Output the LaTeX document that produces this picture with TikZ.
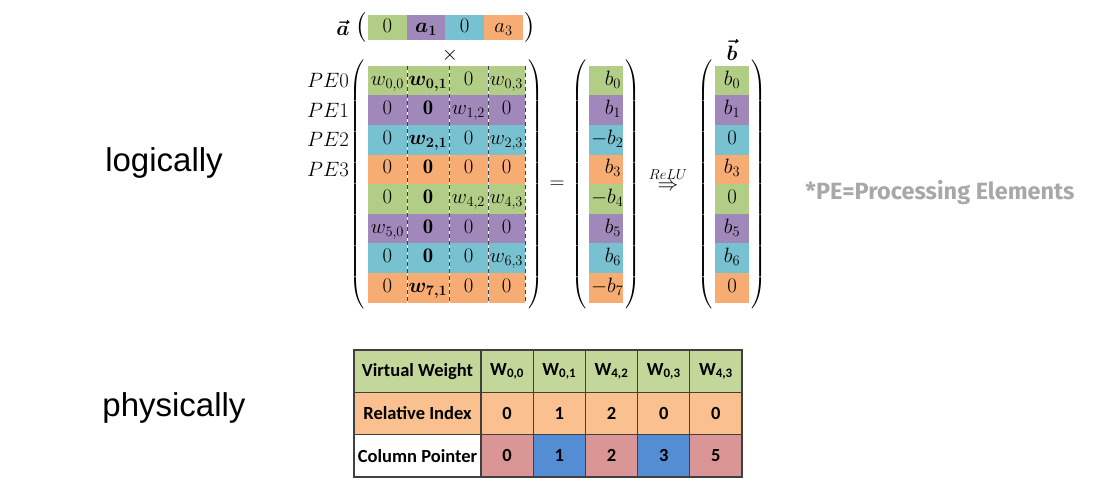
\documentclass[tikz,border=0pt]{standalone}
\usepackage{amsmath}
\usepackage{bm}
\usepackage{fontspec}
\newfontfamily\sidefont{Liberation Sans}
\newfontfamily\tabfont{Carlito}
\newfontfamily\notefont{Fira Sans}
\usepackage{tikz}
\definecolor{pegreen}{RGB}{178,205,133}
\definecolor{pepurple}{RGB}{160,137,186}
\definecolor{pecyan}{RGB}{120,193,209}
\definecolor{peorange}{RGB}{246,172,114}
\definecolor{tabgreen}{RGB}{196,215,155}
\definecolor{taborange}{RGB}{250,192,143}
\definecolor{tabpink}{RGB}{218,150,148}
\definecolor{tabblue}{RGB}{84,141,212}
\definecolor{notegray}{RGB}{168,168,168}

\begin{document}
\begin{tikzpicture}[x=1pt,y=-1pt,
  mcell/.style={inner sep=0,outer sep=0,minimum height=29.6pt,text height=14pt,text depth=5pt,font=\huge},
  col0/.style={minimum width=39pt},
  col1/.style={minimum width=42pt},
  col2/.style={minimum width=39pt},
  col3/.style={minimum width=37pt},
  acell/.style={mcell,minimum height=25pt},
  bcell/.style={mcell,text width=30pt,inner xsep=2pt,align=right},
  ocell/.style={mcell,minimum width=34pt},
  colsep/.style={white,line width=1pt,postaction={draw=black!75,line width=1pt,dash pattern=on 4pt off 3pt}},
  parbig/.style={font=\LARGE,inner sep=0,outer sep=0},
  parsmall/.style={font=\fontsize{24}{29}\selectfont,inner sep=0,outer sep=0},
  pelabel/.style={font=\huge,inner sep=0,anchor=east},
  sidelabel/.style={font=\sidefont\fontsize{33}{40}\selectfont,inner sep=0},
  tcell/.style={draw=black!75,line width=1.3pt,inner sep=0,minimum height=42.3pt,minimum width=52.2pt,font=\tabfont\bfseries\fontsize{18.5}{22}\selectfont},
  thead/.style={tcell,minimum width=127pt}]
\useasboundingbox (0,0) rectangle (1113,496);

% row labels on the left
\node[sidelabel] (logic) at (164,163) {logically};
\node[sidelabel] (phys) at (174,408) {physically};

% input vector a
\node[font=\huge,inner sep=0] (avec) at (343,27.5) {$\bm{\vec{a}}$};
\node[acell,col0,fill=pegreen] (av0) at (387.5,27.5) {$0$};
\node[acell,minimum width=38pt,fill=pepurple] (av1) at (426,27.5) {$\bm{a_1}$};
\node[acell,col2,fill=pecyan] (av2) at (464.5,27.5) {$0$};
\node[acell,minimum width=39pt,fill=peorange] (av3) at (503.5,27.5) {$a_3$};
\node[parsmall,anchor=east] (apl) at (367,27.5) {$\bigl($};
\node[parsmall,anchor=west] (apr) at (524,27.5) {$\bigr)$};
\node[font=\huge,inner sep=0] (times) at (450,55) {$\times$};

% PE labels
\node[pelabel] (pe0) at (349,80.5) {$PE0$};
\node[pelabel] (pe1) at (349,110.1) {$PE1$};
\node[pelabel] (pe2) at (349,139.7) {$PE2$};
\node[pelabel] (pe3) at (349,169.3) {$PE3$};

% sparse weight matrix
\node[mcell,col0,fill=pegreen] (w00) at (387.5,80.5) {$w_{0,0}$};
\node[mcell,col1,fill=pegreen] (w01) at (428,80.5) {$\boldsymbol{w_{0,1}}$};
\node[mcell,col2,fill=pegreen] (w02) at (468.5,80.5) {$0$};
\node[mcell,col3,fill=pegreen] (w03) at (506.5,80.5) {$w_{0,3}$};
\node[mcell,col0,fill=pepurple] (w10) at (387.5,110.1) {$0$};
\node[mcell,col1,fill=pepurple] (w11) at (428,110.1) {$\mathbf{0}$};
\node[mcell,col2,fill=pepurple] (w12) at (468.5,110.1) {$w_{1,2}$};
\node[mcell,col3,fill=pepurple] (w13) at (506.5,110.1) {$0$};
\node[mcell,col0,fill=pecyan] (w20) at (387.5,139.7) {$0$};
\node[mcell,col1,fill=pecyan] (w21) at (428,139.7) {$\boldsymbol{w_{2,1}}$};
\node[mcell,col2,fill=pecyan] (w22) at (468.5,139.7) {$0$};
\node[mcell,col3,fill=pecyan] (w23) at (506.5,139.7) {$w_{2,3}$};
\node[mcell,col0,fill=peorange] (w30) at (387.5,169.3) {$0$};
\node[mcell,col1,fill=peorange] (w31) at (428,169.3) {$\mathbf{0}$};
\node[mcell,col2,fill=peorange] (w32) at (468.5,169.3) {$0$};
\node[mcell,col3,fill=peorange] (w33) at (506.5,169.3) {$0$};
\node[mcell,col0,fill=pegreen] (w40) at (387.5,198.9) {$0$};
\node[mcell,col1,fill=pegreen] (w41) at (428,198.9) {$\mathbf{0}$};
\node[mcell,col2,fill=pegreen] (w42) at (468.5,198.9) {$w_{4,2}$};
\node[mcell,col3,fill=pegreen] (w43) at (506.5,198.9) {$w_{4,3}$};
\node[mcell,col0,fill=pepurple] (w50) at (387.5,228.5) {$w_{5,0}$};
\node[mcell,col1,fill=pepurple] (w51) at (428,228.5) {$\mathbf{0}$};
\node[mcell,col2,fill=pepurple] (w52) at (468.5,228.5) {$0$};
\node[mcell,col3,fill=pepurple] (w53) at (506.5,228.5) {$0$};
\node[mcell,col0,fill=pecyan] (w60) at (387.5,258.1) {$0$};
\node[mcell,col1,fill=pecyan] (w61) at (428,258.1) {$\mathbf{0}$};
\node[mcell,col2,fill=pecyan] (w62) at (468.5,258.1) {$0$};
\node[mcell,col3,fill=pecyan] (w63) at (506.5,258.1) {$w_{6,3}$};
\node[mcell,col0,fill=peorange] (w70) at (387.5,287.7) {$0$};
\node[mcell,col1,fill=peorange] (w71) at (428,287.7) {$\boldsymbol{w_{7,1}}$};
\node[mcell,col2,fill=peorange] (w72) at (468.5,287.7) {$0$};
\node[mcell,col3,fill=peorange] (w73) at (506.5,287.7) {$0$};
\draw[colsep] (w00.north east) -- (w70.south east);
\draw[colsep] (w01.north east) -- (w71.south east);
\draw[colsep] (w02.north east) -- (w72.south east);
\draw[colsep] (w03.north east) -- (w73.south east);
\node[parbig,anchor=east] (wpl) at (366,184) {$\left(\vrule height 118pt depth 118pt width 0pt\right.$};
\node[parbig,anchor=west] (wpr) at (527,184) {$\left.\vrule height 118pt depth 118pt width 0pt\right)$};

\node[font=\huge,inner sep=0] (eq) at (557,185) {$=$};

% product before ReLU
\node[bcell,fill=pegreen] (bv0) at (606,80.5) {$b_0$};
\node[bcell,fill=pepurple] (bv1) at (606,110.1) {$b_1$};
\node[bcell,fill=pecyan] (bv2) at (606,139.7) {$-b_2$};
\node[bcell,fill=peorange] (bv3) at (606,169.3) {$b_3$};
\node[bcell,fill=pegreen] (bv4) at (606,198.9) {$-b_4$};
\node[bcell,fill=pepurple] (bv5) at (606,228.5) {$b_5$};
\node[bcell,fill=pecyan] (bv6) at (606,258.1) {$b_6$};
\node[bcell,fill=peorange] (bv7) at (606,287.7) {$-b_7$};
\node[parbig,anchor=east] (bpl) at (588,184) {$\left(\vrule height 118pt depth 118pt width 0pt\right.$};
\node[parbig,anchor=west] (bpr) at (624,184) {$\left.\vrule height 118pt depth 118pt width 0pt\right)$};

\node[font=\huge,inner sep=0] (relu) at (668,179) {$\stackrel{ReLU}{\Rightarrow}$};

% output vector b
\node[font=\huge,inner sep=0] (bvec) at (732,50) {$\bm{\vec{b}}$};
\node[ocell,fill=pegreen] (ov0) at (732,80.5) {$b_0$};
\node[ocell,fill=pepurple] (ov1) at (732,110.1) {$b_1$};
\node[ocell,fill=pecyan] (ov2) at (732,139.7) {$0$};
\node[ocell,fill=peorange] (ov3) at (732,169.3) {$b_3$};
\node[ocell,fill=pegreen] (ov4) at (732,198.9) {$0$};
\node[ocell,fill=pepurple] (ov5) at (732,228.5) {$b_5$};
\node[ocell,fill=pecyan] (ov6) at (732,258.1) {$b_6$};
\node[ocell,fill=peorange] (ov7) at (732,287.7) {$0$};
\node[parbig,anchor=east] (opl) at (714,184) {$\left(\vrule height 118pt depth 118pt width 0pt\right.$};
\node[parbig,anchor=west] (opr) at (750,184) {$\left.\vrule height 118pt depth 118pt width 0pt\right)$};

\node[font=\notefont\bfseries\fontsize{23.5}{28}\selectfont,text=notegray,inner sep=0] (note) at (940,193) {*PE=Processing Elements};

% compressed storage table
\node[thead,fill=tabgreen] (vw0) at (417.5,371.2) {Virtual Weight};
\node[tcell,fill=tabgreen] (vw1) at (507.1,371.2) {W\textsubscript{0,0}};
\node[tcell,fill=tabgreen] (vw2) at (559.3,371.2) {W\textsubscript{0,1}};
\node[tcell,fill=tabgreen] (vw3) at (611.5,371.2) {W\textsubscript{4,2}};
\node[tcell,fill=tabgreen] (vw4) at (663.7,371.2) {W\textsubscript{0,3}};
\node[tcell,fill=tabgreen] (vw5) at (715.9,371.2) {W\textsubscript{4,3}};
\node[thead,fill=taborange] (ri0) at (417.5,413.5) {Relative Index};
\node[tcell,fill=taborange] (ri1) at (507.1,413.5) {0};
\node[tcell,fill=taborange] (ri2) at (559.3,413.5) {1};
\node[tcell,fill=taborange] (ri3) at (611.5,413.5) {2};
\node[tcell,fill=taborange] (ri4) at (663.7,413.5) {0};
\node[tcell,fill=taborange] (ri5) at (715.9,413.5) {0};
\node[thead,fill=white] (cp0) at (417.5,455.8) {Column Pointer};
\node[tcell,fill=tabpink] (cp1) at (507.1,455.8) {0};
\node[tcell,fill=tabblue] (cp2) at (559.3,455.8) {1};
\node[tcell,fill=tabpink] (cp3) at (611.5,455.8) {2};
\node[tcell,fill=tabblue] (cp4) at (663.7,455.8) {3};
\node[tcell,fill=tabpink] (cp5) at (715.9,455.8) {5};
\end{tikzpicture}
\end{document}
